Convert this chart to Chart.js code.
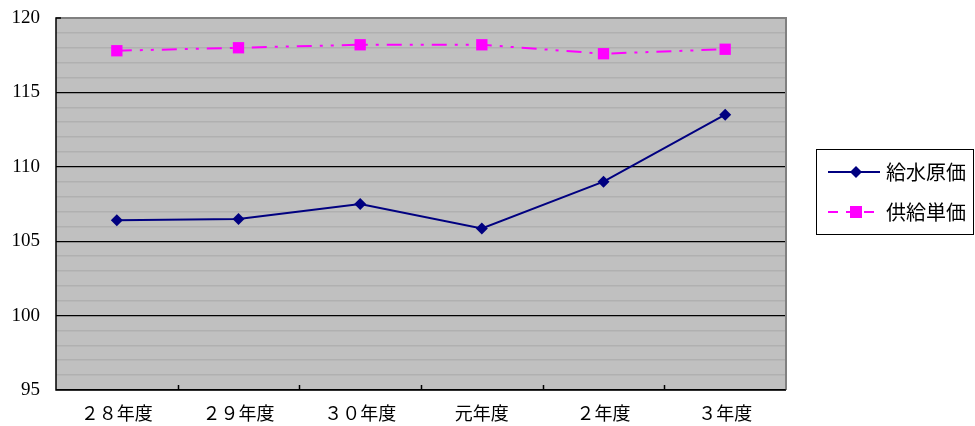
<!DOCTYPE html>
<html>
<head>
<meta charset="utf-8">
<script src="https://cdn.jsdelivr.net/npm/chart.js@4"></script>
<style>
  html, body { margin: 0; padding: 0; background: #fff; }
  #wrap { width: 975px; height: 426px; }
</style>
</head>
<body>
<div id="wrap"><canvas id="myChart" width="975" height="426"></canvas></div>
<script>
// data
var labels = ['２８年度', '２９年度', '３０年度', '元年度', '２年度', '３年度'];
var kyusuiGenka = [106.4, 106.5, 107.5, 105.85, 109.0, 113.5];
var kyokyuTanka = [117.8, 118.0, 118.2, 118.2, 117.6, 117.9];
var seriesNames = ['給水原価', '供給単価'];

var serifFont = "'Liberation Serif', 'Noto Sans CJK JP', serif";

// grey plot background, borders and inward category ticks
var plotBg = {
    id: 'plotBg',
    beforeDraw: function (chart) {
        var a = chart.chartArea, c = chart.ctx;
        c.save();
        c.fillStyle = '#c0c0c0';
        c.fillRect(a.left, a.top, a.right - a.left, a.bottom - a.top);
        c.restore();
    },
    beforeDatasetsDraw: function (chart) {
        var a = chart.chartArea, c = chart.ctx, x = chart.scales.x;
        c.save();
        c.strokeStyle = '#808080';
        c.lineWidth = 2;
        c.beginPath();
        c.moveTo(a.left, a.top);
        c.lineTo(a.right, a.top);
        c.lineTo(a.right, a.bottom);
        c.stroke();
        c.strokeStyle = '#000';
        c.lineWidth = 1.5;
        c.beginPath();
        c.moveTo(a.left + 5, a.top);
        c.lineTo(a.left, a.top);
        c.lineTo(a.left, a.bottom);
        c.lineTo(a.right, a.bottom);
        for (var i = 0; i < labels.length - 1; i++) {
            var px = Math.round((x.getPixelForTick(i) + x.getPixelForTick(i + 1)) / 2) + 0.5;
            c.moveTo(px, a.bottom);
            c.lineTo(px, a.bottom - 5);
        }
        c.stroke();
        c.restore();
    }
};

// legend box on the right
var sideLegend = {
    id: 'sideLegend',
    afterDraw: function (chart) {
        var c = chart.ctx;
        c.save();
        c.strokeStyle = '#000';
        c.lineWidth = 1;
        c.strokeRect(816.5, 149.5, 157, 85);
        var rows = [172, 212];
        chart.data.datasets.forEach(function (ds, i) {
            var y = rows[i];
            c.strokeStyle = ds.borderColor;
            c.lineWidth = 2;
            c.setLineDash(i === 1 ? [10, 8] : []);
            c.beginPath();
            c.moveTo(828, y);
            c.lineTo(880, y);
            c.stroke();
            c.setLineDash([]);
            c.fillStyle = ds.pointBackgroundColor;
            c.beginPath();
            if (i === 0) {
                c.moveTo(856, y - 6);
                c.lineTo(862, y);
                c.lineTo(856, y + 6);
                c.lineTo(850, y);
                c.closePath();
            } else {
                c.rect(850, y - 6, 12, 12);
            }
            c.fill();
            c.fillStyle = '#000';
            c.font = "20px 'Noto Sans CJK JP'";
            c.textBaseline = 'middle';
            c.fillText(ds.label, 886, y);
        });
        c.restore();
    }
};

var ctx = document.getElementById('myChart').getContext('2d');
var chart = new Chart(ctx, {
    type: 'line',
    data: {
        labels: labels,
        datasets: [
            {
                label: seriesNames[0],
                data: kyusuiGenka,
                borderColor: '#000080',
                backgroundColor: '#000080',
                pointBackgroundColor: '#000080',
                pointBorderColor: '#000080',
                pointStyle: 'rectRot',
                pointRadius: 6,
                pointBorderWidth: 0,
                borderWidth: 2,
                tension: 0
            },
            {
                label: seriesNames[1],
                data: kyokyuTanka,
                borderColor: '#ff00ff',
                backgroundColor: '#ff00ff',
                pointBackgroundColor: '#ff00ff',
                pointBorderColor: '#ff00ff',
                pointStyle: 'rect',
                pointRadius: 8,
                pointBorderWidth: 0,
                borderWidth: 2,
                borderDash: [15, 8, 3, 8, 3, 8],
                tension: 0
            }
        ]
    },
    options: {
        responsive: false,
        animation: false,
        layout: { padding: { top: 18, right: 189, left: 0, bottom: 0 } },
        plugins: {
            legend: { display: false },
            tooltip: { enabled: false }
        },
        scales: {
            x: {
                offset: true,
                grid: { display: false },
                border: { display: false },
                ticks: {
                    color: '#000',
                    font: { family: serifFont, size: 18 },
                    maxRotation: 0,
                    padding: 6
                },
                afterFit: function (s) {
                    s.height = 36;
                    s.paddingLeft = 0;
                    s.paddingRight = 0;
                }
            },
            y: {
                min: 95,
                max: 120,
                border: { display: false },
                grid: {
                    drawTicks: false,
                    color: function (c) {
                        return c.tick.value % 5 === 0 ? '#000' : '#b0b0b0';
                    },
                    lineWidth: function (c) {
                        return c.tick.value % 5 === 0 ? 1.2 : 1.5;
                    }
                },
                ticks: {
                    stepSize: 1,
                    autoSkip: false,
                    padding: 16,
                    color: '#000',
                    font: { family: serifFont, size: 19 },
                    callback: function (v) { return v % 5 === 0 ? v : ''; }
                },
                afterFit: function (s) {
                    s.width = 56;
                    s.paddingTop = 0;
                    s.paddingBottom = 0;
                }
            }
        }
    },
    plugins: [plotBg, sideLegend]
});
</script>
</body>
</html>
